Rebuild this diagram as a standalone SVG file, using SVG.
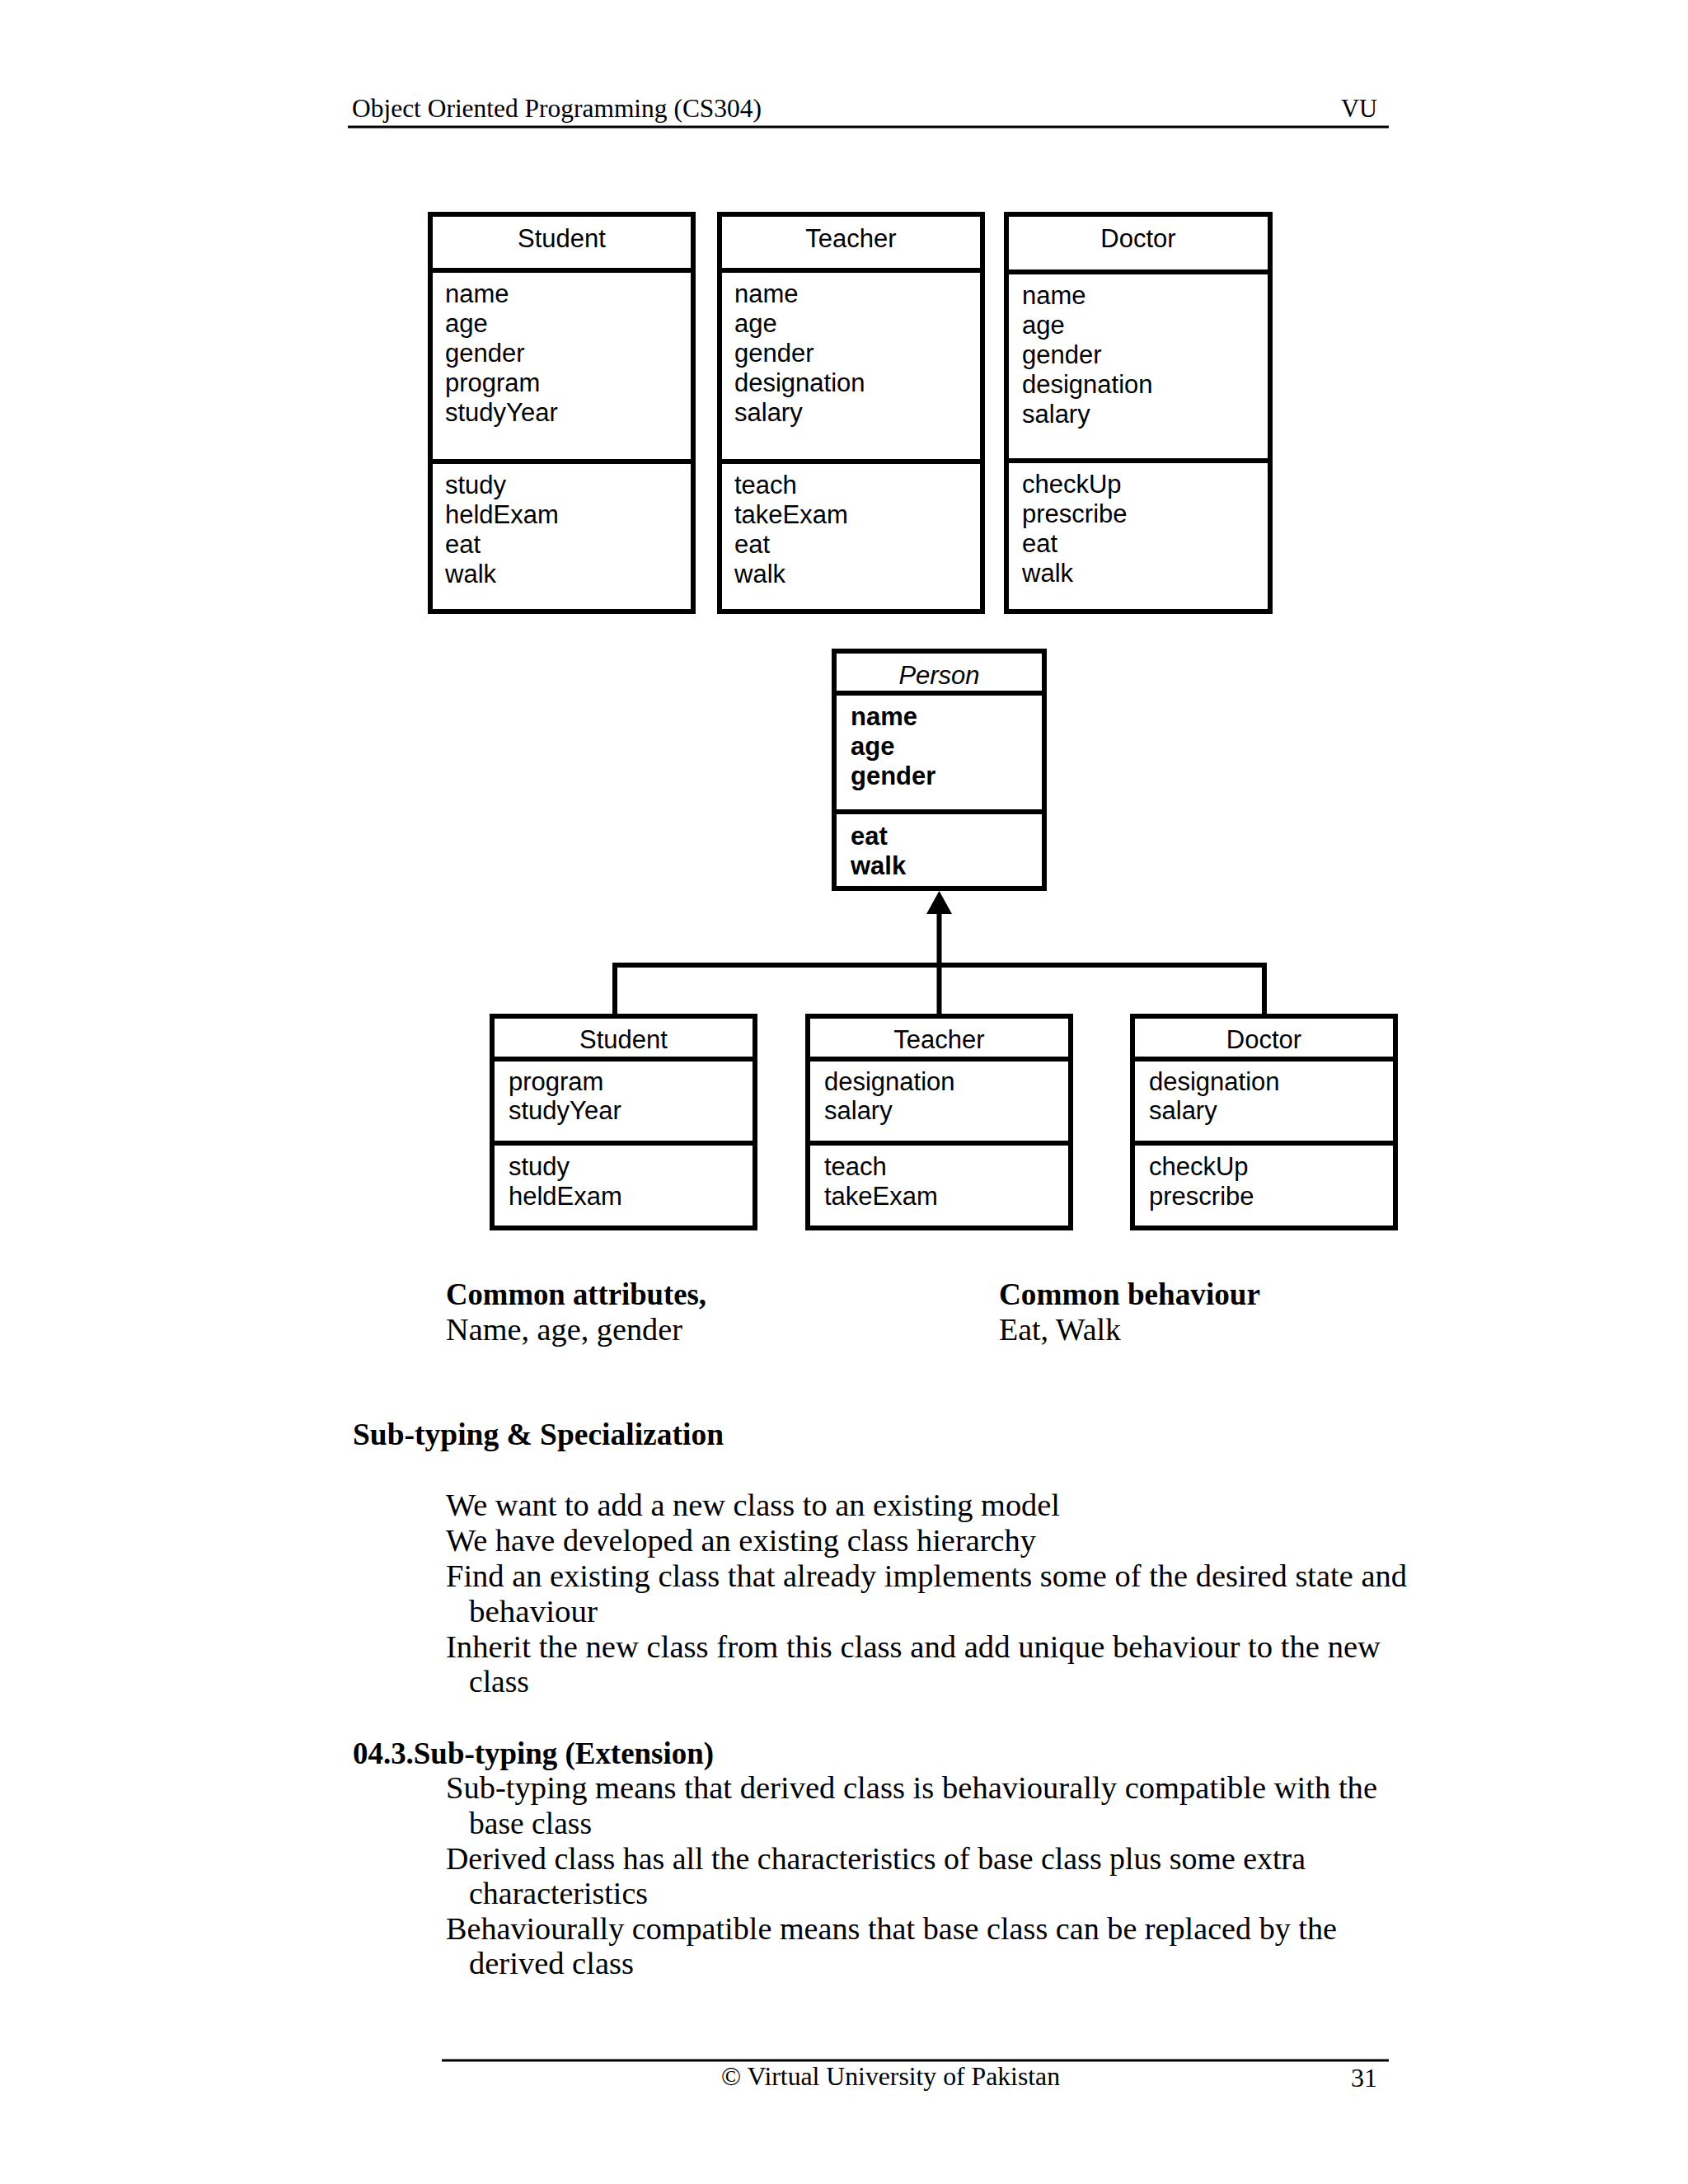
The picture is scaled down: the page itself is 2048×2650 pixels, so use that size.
<svg xmlns="http://www.w3.org/2000/svg" width="2048" height="2650" viewBox="0 0 2048 2650">
<style>
.box{fill:#fff;stroke:#000;stroke-width:6}
.dv{stroke:#000;stroke-width:6}
.t{font-family:"Liberation Sans",Arial,sans-serif;font-size:31px;fill:#000}
.tc{text-anchor:middle}
.b{font-weight:bold}
.i{font-style:italic}
.conn{fill:none;stroke:#000;stroke-width:6;stroke-linejoin:miter}
.rule{stroke:#000;stroke-width:3}
.hf{font-family:"Liberation Serif","Times New Roman",serif;font-size:31px;fill:#000}
.bd{font-family:"Liberation Serif","Times New Roman",serif;font-size:37px;fill:#000}
</style>
<rect width="2048" height="2650" fill="#fff"/>

<g id="header">
<text class="hf" x="427" y="142" textLength="497" lengthAdjust="spacingAndGlyphs">Object Oriented Programming (CS304)</text>
<text class="hf" x="1627" y="142" textLength="44" lengthAdjust="spacingAndGlyphs">VU</text>
<line class="rule" x1="422" y1="154" x2="1685" y2="154"/>
</g>

<g id="student-full">
<rect class="box" x="522" y="260" width="319" height="482"/>
<line class="dv" x1="522" y1="328" x2="841" y2="328"/>
<line class="dv" x1="522" y1="560" x2="841" y2="560"/>
<text class="t tc" x="681.5" y="300">Student</text>
<text class="t" x="540" y="367">name</text>
<text class="t" x="540" y="403">age</text>
<text class="t" x="540" y="439">gender</text>
<text class="t" x="540" y="475">program</text>
<text class="t" x="540" y="511">studyYear</text>
<text class="t" x="540" y="599">study</text>
<text class="t" x="540" y="635">heldExam</text>
<text class="t" x="540" y="671">eat</text>
<text class="t" x="540" y="707">walk</text>
</g>

<g id="teacher-full">
<rect class="box" x="873" y="260" width="319" height="482"/>
<line class="dv" x1="873" y1="328" x2="1192" y2="328"/>
<line class="dv" x1="873" y1="560" x2="1192" y2="560"/>
<text class="t tc" x="1032.5" y="300">Teacher</text>
<text class="t" x="891" y="367">name</text>
<text class="t" x="891" y="403">age</text>
<text class="t" x="891" y="439">gender</text>
<text class="t" x="891" y="475">designation</text>
<text class="t" x="891" y="511">salary</text>
<text class="t" x="891" y="599">teach</text>
<text class="t" x="891" y="635">takeExam</text>
<text class="t" x="891" y="671">eat</text>
<text class="t" x="891" y="707">walk</text>
</g>

<g id="doctor-full">
<rect class="box" x="1221" y="260" width="320" height="482"/>
<line class="dv" x1="1221" y1="330" x2="1541" y2="330"/>
<line class="dv" x1="1221" y1="559" x2="1541" y2="559"/>
<text class="t tc" x="1381" y="300">Doctor</text>
<text class="t" x="1240" y="369">name</text>
<text class="t" x="1240" y="405">age</text>
<text class="t" x="1240" y="441">gender</text>
<text class="t" x="1240" y="477">designation</text>
<text class="t" x="1240" y="513">salary</text>
<text class="t" x="1240" y="598">checkUp</text>
<text class="t" x="1240" y="634">prescribe</text>
<text class="t" x="1240" y="670">eat</text>
<text class="t" x="1240" y="706">walk</text>
</g>

<g id="person">
<rect class="box" x="1012" y="790" width="255" height="288"/>
<line class="dv" x1="1012" y1="841" x2="1267" y2="841"/>
<line class="dv" x1="1012" y1="985" x2="1267" y2="985"/>
<text class="t tc i" x="1139.5" y="830">Person</text>
<text class="t b" x="1032" y="880">name</text>
<text class="t b" x="1032" y="916">age</text>
<text class="t b" x="1032" y="952">gender</text>
<text class="t b" x="1032" y="1025">eat</text>
<text class="t b" x="1032" y="1061">walk</text>
</g>

<g id="connectors">
<path class="conn" d="M746,1233 V1171 H1534 V1233"/>
<path class="conn" d="M1139.5,1233 V1105"/>
<polygon points="1139.5,1081 1124,1109 1155,1109" fill="#000"/>
</g>

<g id="student-sub">
<rect class="box" x="597" y="1233" width="319" height="257"/>
<line class="dv" x1="597" y1="1285" x2="916" y2="1285"/>
<line class="dv" x1="597" y1="1387" x2="916" y2="1387"/>
<text class="t tc" x="756.5" y="1272">Student</text>
<text class="t" x="617" y="1323">program</text>
<text class="t" x="617" y="1358">studyYear</text>
<text class="t" x="617" y="1426">study</text>
<text class="t" x="617" y="1462">heldExam</text>
</g>

<g id="teacher-sub">
<rect class="box" x="980" y="1233" width="319" height="257"/>
<line class="dv" x1="980" y1="1285" x2="1299" y2="1285"/>
<line class="dv" x1="980" y1="1387" x2="1299" y2="1387"/>
<text class="t tc" x="1139.5" y="1272">Teacher</text>
<text class="t" x="1000" y="1323">designation</text>
<text class="t" x="1000" y="1358">salary</text>
<text class="t" x="1000" y="1426">teach</text>
<text class="t" x="1000" y="1462">takeExam</text>
</g>

<g id="doctor-sub">
<rect class="box" x="1374" y="1233" width="319" height="257"/>
<line class="dv" x1="1374" y1="1285" x2="1693" y2="1285"/>
<line class="dv" x1="1374" y1="1387" x2="1693" y2="1387"/>
<text class="t tc" x="1533.5" y="1272">Doctor</text>
<text class="t" x="1394" y="1323">designation</text>
<text class="t" x="1394" y="1358">salary</text>
<text class="t" x="1394" y="1426">checkUp</text>
<text class="t" x="1394" y="1462">prescribe</text>
</g>

<g id="body-text">
<text class="bd b" x="541" y="1583" textLength="316" lengthAdjust="spacingAndGlyphs">Common attributes,</text>
<text class="bd" x="541" y="1626" textLength="287" lengthAdjust="spacingAndGlyphs">Name, age, gender</text>
<text class="bd b" x="1212" y="1583" textLength="317" lengthAdjust="spacingAndGlyphs">Common behaviour</text>
<text class="bd" x="1212" y="1626" textLength="148" lengthAdjust="spacingAndGlyphs">Eat, Walk</text>

<text class="bd b" x="428" y="1753" textLength="450" lengthAdjust="spacingAndGlyphs">Sub-typing &amp; Specialization</text>
<text class="bd" x="541" y="1839" textLength="745" lengthAdjust="spacingAndGlyphs">We want to add a new class to an existing model</text>
<text class="bd" x="541" y="1882" textLength="716" lengthAdjust="spacingAndGlyphs">We have developed an existing class hierarchy</text>
<text class="bd" x="541" y="1925" textLength="1166" lengthAdjust="spacingAndGlyphs">Find an existing class that already implements some of the desired state and</text>
<text class="bd" x="569" y="1968" textLength="156" lengthAdjust="spacingAndGlyphs">behaviour</text>
<text class="bd" x="541" y="2011" textLength="1134" lengthAdjust="spacingAndGlyphs">Inherit the new class from this class and add unique behaviour to the new</text>
<text class="bd" x="569" y="2053" textLength="73" lengthAdjust="spacingAndGlyphs">class</text>

<text class="bd b" x="428" y="2140" textLength="438" lengthAdjust="spacingAndGlyphs">04.3.Sub-typing (Extension)</text>
<text class="bd" x="541" y="2182" textLength="1130" lengthAdjust="spacingAndGlyphs">Sub-typing means that derived class is behaviourally compatible with the</text>
<text class="bd" x="569" y="2225" textLength="149" lengthAdjust="spacingAndGlyphs">base class</text>
<text class="bd" x="541" y="2268" textLength="1043" lengthAdjust="spacingAndGlyphs">Derived class has all the characteristics of base class plus some extra</text>
<text class="bd" x="569" y="2310" textLength="217" lengthAdjust="spacingAndGlyphs">characteristics</text>
<text class="bd" x="541" y="2353" textLength="1081" lengthAdjust="spacingAndGlyphs">Behaviourally compatible means that base class can be replaced by the</text>
<text class="bd" x="569" y="2395" textLength="200" lengthAdjust="spacingAndGlyphs">derived class</text>
</g>

<g id="footer">
<line class="rule" x1="536" y1="2500" x2="1685" y2="2500"/>
<text class="hf" x="875" y="2530" textLength="411" lengthAdjust="spacingAndGlyphs">© Virtual University of Pakistan</text>
<text class="hf" x="1639" y="2532" textLength="32" lengthAdjust="spacingAndGlyphs">31</text>
</g>
</svg>
